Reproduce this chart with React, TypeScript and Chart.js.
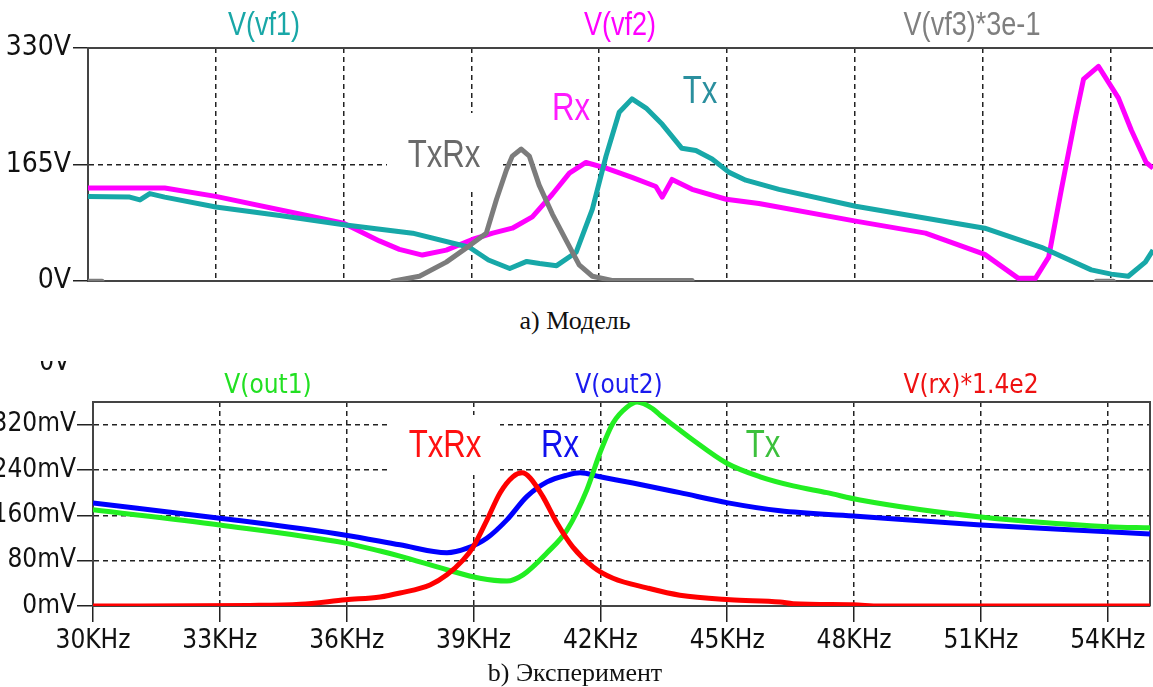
import React, { useEffect, useRef } from "react";
import { Chart, registerables } from "chart.js";
Chart.register(...registerables);

const SANS = "'Liberation Sans', Arial, sans-serif";
const COND = "'DejaVu Sans Condensed', 'DejaVu Sans', sans-serif";
const SERIF = "'Liberation Serif', 'Times New Roman', serif";

// shared frequency axis (KHz)
const freqMin = 30;
const freqMax = 55;
const freqTicks = [30, 33, 36, 39, 42, 45, 48, 51, 54];
const freqTickLabels = ["30KHz", "33KHz", "36KHz", "39KHz", "42KHz", "45KHz", "48KHz", "51KHz", "54KHz"];

// a) model — volts
const modelYTicks = [0, 165, 330];
const modelYLabels = ["0V", "165V", "330V"];

const vf1Freq = [30.0, 30.98, 31.22, 31.45, 31.8, 33.0, 34.5, 36.0, 37.62, 38.95, 39.4, 39.9, 40.3, 40.6, 41.0, 41.46, 41.84, 42.16, 42.47, 42.77, 43.1, 43.48, 43.94, 44.27, 44.65, 45.05, 45.44, 46.22, 48.02, 51.05, 52.38, 53.55, 54.02, 54.42, 54.82, 55.0];
const vf1Volt = [120, 119, 115, 124, 119, 105, 93, 80, 68, 48, 30, 18, 28, 25, 22, 41, 102, 177, 239, 258, 245, 222, 188, 185, 173, 154, 143, 130, 106, 75, 48, 16, 10, 7, 27, 44];

const vf2Freq = [30.0, 31.8, 33.0, 34.97, 36.0, 36.84, 37.31, 37.85, 38.41, 39.02, 39.5, 39.96, 40.43, 40.9, 41.3, 41.69, 42.16, 42.77, 43.33, 43.48, 43.71, 44.18, 44.98, 45.75, 48.02, 49.66, 51.05, 51.84, 52.24, 52.55, 52.85, 53.18, 53.37, 53.72, 54.19, 54.49, 54.84, 55.0];
const vf2Volt = [132, 132, 120, 95, 82, 57, 45, 37, 44, 59, 68, 75, 91, 123, 153, 168, 160, 147, 134, 119, 144, 130, 116, 110, 85, 68, 38, 4, 4, 34, 130, 232, 286, 304, 259, 214, 168, 160];

const vf3Freq = [30.0, 30.33, 33.0, 37.15, 37.78, 38.41, 38.95, 39.35, 39.59, 39.82, 39.96, 40.17, 40.36, 40.59, 40.9, 41.23, 41.53, 41.84, 42.3, 44.18, 48.0, 53.67, 54.07];
const vf3Volt = [0, 0, null, 0, 7, 27, 50, 68, 116, 157, 177, 187, 177, 136, 95, 57, 23, 7, 1, 1, null, 0, 0];

// b) experiment — millivolts
const expYMax = 360;
const expYTicks = [0, 80, 160, 240, 320];
const expYLabels = ["0mV", "80mV", "160mV", "240mV", "320mV"];

const out1Freq = [30.0, 33.0, 35.98, 36.79, 37.26, 38.37, 39.15, 39.79, 40.17, 40.74, 41.21, 41.68, 41.99, 42.3, 42.63, 42.87, 43.24, 43.41, 43.8, 44.19, 44.99, 45.78, 46.56, 47.36, 48.14, 51.0, 54.01, 55.0];
const out1Volt = [170, 143, 111, 97, 88, 64, 49, 44, 55, 94, 134, 205, 270, 323, 351, 360, 348, 337, 315, 293, 252, 228, 212, 200, 187, 157, 140, 138];

const out2Freq = [30.0, 33.0, 35.98, 37.26, 38.37, 38.85, 39.32, 39.79, 40.26, 40.74, 41.21, 41.52, 41.99, 42.77, 43.88, 45.02, 46.25, 47.98, 51.0, 54.01, 55.0];
const out2Volt = [182, 155, 125, 108, 94, 102, 120, 152, 193, 219, 231, 235, 228, 217, 200, 182, 168, 159, 143, 131, 127];

const rxFreq = [30.0, 33.71, 34.9, 35.98, 36.79, 37.26, 37.97, 38.37, 38.75, 38.99, 39.32, 39.63, 39.93, 40.15, 40.34, 40.64, 40.97, 41.35, 41.83, 42.3, 43.1, 43.88, 45.07, 46.25, 46.56, 47.98, 48.61, 55.0];
const rxVolt = [0, 1, 3, 11, 16, 23, 37, 55, 81, 104, 152, 200, 228, 235, 226, 193, 147, 104, 69, 49, 32, 19, 11, 7, 4, 2, 0, 0];

type TextSpec = { text: string; x: number; y: number; color: string; font: string; sx?: number };
type Box = { x: number; y: number; w: number; h: number };

const zip = (xs: number[], ys: (number | null)[]) => xs.map((x, i) => ({ x, y: ys[i] }));

const GRID = "#222";
const FRAME = "#444";
const NARROW_SX = 0.82;

function makeOverlay(id: string, boxes: Box[], under: TextSpec[], over: TextSpec[], frameRight: boolean, clipped?: { spec: TextSpec; clipTop: number }) {
  const drawText = (ctx: CanvasRenderingContext2D, t: TextSpec) => {
    const sx = t.sx ?? 1;
    ctx.save();
    ctx.fillStyle = t.color;
    ctx.font = t.font;
    ctx.textAlign = "center";
    ctx.textBaseline = "alphabetic";
    ctx.translate(t.x, t.y);
    ctx.scale(sx, 1);
    ctx.fillText(t.text, 0, 0);
    ctx.restore();
  };
  return {
    id,
    beforeDatasetsDraw(chart: any) {
      const ctx = chart.ctx as CanvasRenderingContext2D;
      const a = chart.chartArea;
      ctx.save();
      ctx.fillStyle = "#fff";
      boxes.forEach((b) => ctx.fillRect(b.x, b.y, b.w, b.h));
      under.forEach((t) => drawText(ctx, t));
      ctx.strokeStyle = FRAME;
      ctx.lineWidth = 2;
      ctx.beginPath();
      ctx.moveTo(a.left - 1, a.top);
      ctx.lineTo(a.right, a.top);
      if (frameRight) ctx.lineTo(a.right, a.bottom);
      ctx.stroke();
      ctx.restore();
    },
    afterDraw(chart: any) {
      const ctx = chart.ctx as CanvasRenderingContext2D;
      ctx.save();
      over.forEach((t) => drawText(ctx, t));
      if (clipped) {
        ctx.beginPath();
        ctx.rect(0, clipped.clipTop, chart.width, chart.height);
        ctx.clip();
        ctx.fillStyle = clipped.spec.color;
        ctx.font = clipped.spec.font;
        ctx.textAlign = "right";
        ctx.fillText(clipped.spec.text, clipped.spec.x, clipped.spec.y);
      }
      ctx.restore();
    },
  };
}

const W = 1153;
const H1 = 300;
const TOP2 = 340;
const H2 = 320;

export default function App() {
  const ref1 = useRef<HTMLCanvasElement>(null);
  const ref2 = useRef<HTMLCanvasElement>(null);

  useEffect(() => {
    const c1 = new Chart(ref1.current!, {
      type: "line",
      data: {
        datasets: [
          { label: "V(vf3)*3e-1", data: zip(vf3Freq, vf3Volt), borderColor: "#7c7c7c", borderWidth: 5, pointRadius: 0, tension: 0, spanGaps: false, borderJoinStyle: "round", borderCapStyle: "round" } as any,
          { label: "V(vf1)", data: zip(vf1Freq, vf1Volt), borderColor: "#17a8a8", borderWidth: 5, pointRadius: 0, tension: 0, borderJoinStyle: "round" } as any,
          { label: "V(vf2)", data: zip(vf2Freq, vf2Volt), borderColor: "#ff00ff", borderWidth: 5, pointRadius: 0, tension: 0, borderJoinStyle: "round" } as any,
        ],
      },
      options: {
        responsive: false,
        animation: false,
        devicePixelRatio: 1,
        layout: { padding: { top: 48, right: 0, bottom: 10, left: 0 } },
        plugins: { legend: { display: false }, tooltip: { enabled: false } },
        scales: {
          x: {
            type: "linear",
            min: freqMin,
            max: freqMax,
            afterBuildTicks: (s: any) => { s.ticks = freqTicks.map((v) => ({ value: v })); },
            afterFit: (s: any) => { s.height = 0; },
            ticks: { display: false },
            grid: {
              color: (c: any) => (c.tick && c.tick.value === freqMin ? "rgba(0,0,0,0)" : GRID),
              lineWidth: 1.5,
              drawTicks: false,
            },
            border: { color: FRAME, width: 2, dash: [5, 4] },
          },
          y: {
            type: "linear",
            min: 0,
            max: 330,
            afterBuildTicks: (s: any) => { s.ticks = modelYTicks.map((v) => ({ value: v })); },
            afterFit: (s: any) => { s.width = 88; },
            ticks: {
              callback: (_v: any, i: number) => modelYLabels[i],
              color: "#111",
              font: { family: COND, size: 28 },
              padding: 2,
            },
            grid: {
              color: (c: any) => (c.tick && c.tick.value === 165 ? GRID : "rgba(0,0,0,0)"),
              lineWidth: 1.5,
              tickColor: "#222",
              tickLength: 15,
              tickWidth: 1.5,
              tickBorderDash: [],
            },
            border: { color: FRAME, width: 2, dash: [5, 4] },
          },
        },
      },
      plugins: [
        makeOverlay(
          "ov1",
          [{ x: 387, y: 113, w: 113, h: 77 }],
          [
            { text: "TxRx", x: 444, y: 167, color: "#6a6a6a", font: `38px ${SANS}`, sx: NARROW_SX },
            { text: "Rx", x: 571, y: 120, color: "#ff1aff", font: `38px ${SANS}`, sx: NARROW_SX },
            { text: "Tx", x: 700, y: 103, color: "#2a8f9e", font: `38px ${SANS}`, sx: NARROW_SX },
          ],
          [
            { text: "V(vf1)", x: 264, y: 35, color: "#19a7a7", font: `33px ${SANS}`, sx: NARROW_SX },
            { text: "V(vf2)", x: 620, y: 35, color: "#ff00ff", font: `33px ${SANS}`, sx: NARROW_SX },
            { text: "V(vf3)*3e-1", x: 972, y: 35, color: "#7f7f7f", font: `33px ${SANS}`, sx: NARROW_SX },
          ],
          false
        ),
      ],
    } as any);

    const c2 = new Chart(ref2.current!, {
      type: "line",
      data: {
        datasets: [
          { label: "V(rx)*1.4e2", data: zip(rxFreq, rxVolt), borderColor: "#ff0000", borderWidth: 5, pointRadius: 0, cubicInterpolationMode: "monotone" } as any,
          { label: "V(out1)", data: zip(out1Freq, out1Volt), borderColor: "#22ee22", borderWidth: 5, pointRadius: 0, cubicInterpolationMode: "monotone" } as any,
          { label: "V(out2)", data: zip(out2Freq, out2Volt), borderColor: "#0000ff", borderWidth: 5, pointRadius: 0, cubicInterpolationMode: "monotone" } as any,
        ],
      },
      options: {
        responsive: false,
        animation: false,
        devicePixelRatio: 1,
        layout: { padding: { top: 62, right: 3, bottom: 0, left: 0 } },
        plugins: { legend: { display: false }, tooltip: { enabled: false } },
        scales: {
          x: {
            type: "linear",
            min: freqMin,
            max: freqMax,
            afterBuildTicks: (s: any) => { s.ticks = freqTicks.map((v) => ({ value: v })); },
            afterFit: (s: any) => { s.height = 54; },
            ticks: {
              callback: (_v: any, i: number) => freqTickLabels[i],
              color: "#111",
              font: { family: COND, size: 26 },
              padding: 4,
              maxRotation: 0,
              autoSkip: false,
            },
            grid: {
              color: (c: any) => (c.tick && c.tick.value === freqMin ? "rgba(0,0,0,0)" : GRID),
              lineWidth: 1.5,
              tickColor: "#222",
              tickLength: 16,
              tickWidth: 1.5,
              tickBorderDash: [],
            },
            border: { color: FRAME, width: 2, dash: [5, 4] },
          },
          y: {
            type: "linear",
            min: 0,
            max: expYMax,
            afterBuildTicks: (s: any) => { s.ticks = expYTicks.map((v) => ({ value: v })); },
            afterFit: (s: any) => { s.width = 93; },
            ticks: {
              callback: (_v: any, i: number) => expYLabels[i],
              color: "#111",
              font: { family: COND, size: 26 },
              padding: 1,
            },
            grid: {
              color: (c: any) => (c.tick && c.tick.value === 0 ? "rgba(0,0,0,0)" : GRID),
              lineWidth: 1.5,
              tickColor: "#222",
              tickLength: 16,
              tickWidth: 1.5,
              tickBorderDash: [],
            },
            border: { color: FRAME, width: 2, dash: [5, 4] },
          },
        },
      },
      plugins: [
        makeOverlay(
          "ov2",
          [{ x: 387, y: 75, w: 113, h: 60 }],
          [
            { text: "TxRx", x: 445, y: 117, color: "#ff1010", font: `38px ${SANS}`, sx: NARROW_SX },
            { text: "Rx", x: 560, y: 117, color: "#1010ee", font: `38px ${SANS}`, sx: NARROW_SX },
            { text: "Tx", x: 763, y: 117, color: "#3cc03c", font: `38px ${SANS}`, sx: NARROW_SX },
          ],
          [
            { text: "V(out1)", x: 268, y: 53, color: "#22e022", font: `26px ${COND}` },
            { text: "V(out2)", x: 619, y: 53, color: "#1a1aee", font: `26px ${COND}` },
            { text: "V(rx)*1.4e2", x: 971, y: 53, color: "#ee1111", font: `26px ${COND}` },
          ],
          true,
          { spec: { text: "0V", x: 70, y: 30, color: "#111", font: `26px ${COND}` }, clipTop: 21 }
        ),
      ],
    } as any);

    return () => {
      c1.destroy();
      c2.destroy();
    };
  }, []);

  const caption: React.CSSProperties = {
    position: "absolute",
    left: 0,
    width: W - 3,
    textAlign: "center",
    fontFamily: SERIF,
    fontSize: 26,
    lineHeight: "26px",
    color: "#111",
  };

  return (
    <div style={{ position: "absolute", left: 0, top: 0, width: W, height: 687, background: "#fff", overflow: "hidden" }}>
      <canvas ref={ref1} width={W} height={H1} style={{ position: "absolute", left: 0, top: 0, width: W, height: H1 }} />
      <div style={{ ...caption, top: 308 }}>a) Модель</div>
      <canvas ref={ref2} width={W} height={H2} style={{ position: "absolute", left: 0, top: TOP2, width: W, height: H2 }} />
      <div style={{ ...caption, top: 660 }}>b) Эксперимент</div>
    </div>
  );
}
